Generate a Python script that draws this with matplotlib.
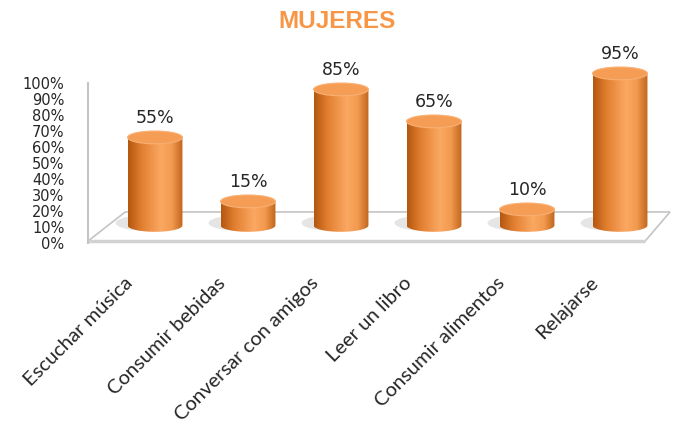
import matplotlib.pyplot as plt
import numpy as np
from matplotlib.colors import LinearSegmentedColormap
from matplotlib.patches import Ellipse, PathPatch, Polygon
from matplotlib.path import Path

# data
categories = ["Escuchar música", "Consumir bebidas", "Conversar con amigos",
              "Leer un libro", "Consumir alimentos", "Relajarse"]
values = [55, 15, 85, 65, 10, 95]
yticks = list(range(0, 101, 10))
ytick_labels = [f"{t}%" for t in yticks]
title = "MUJERES"

ORANGE = "#F79646"
TEXT = "#262626"
BASE = 11        # floor depth offset (percent units)
BAR_W = 0.59     # cylinder width (category units)
CAP_H = 8        # ellipse height (percent units)

side_cmap = LinearSegmentedColormap.from_list(
    "cyl", [(0.0, "#B4570F"), (0.25, "#E27F31"), (0.6, "#FBA862"),
            (0.8, "#F29A4F"), (1.0, "#C0651C")])

fig = plt.figure(figsize=(6.77, 4.23), dpi=100)
# 1.6 px per percent, 0% at pixel row 243; extra headroom up to 115%
ax = fig.add_axes([88 / 677, 180 / 423, 582 / 677, 184 / 423])
x_left = -(155 - 88) / 93
x_right = x_left + 582 / 93
ax.set_xlim(x_left, x_right)
ax.set_ylim(0, 115)

# floor of the 3d plot
floor = Polygon([(x_left, 1.2), (5.27, 1.2), (x_right, 19.4), (-0.32, 19.4)],
                closed=True, facecolor="white", edgecolor="#C4C4C4", lw=1.2,
                zorder=1, clip_on=False)
ax.add_patch(floor)
ax.plot([x_left, 5.27], [1.0, 1.0], color="#D2D2D2", lw=2.5, zorder=1,
        clip_on=False, solid_capstyle="butt")

grad = np.linspace(0, 1, 256).reshape(1, -1)
for i, v in enumerate(values):
    top = BASE + v
    x0, x1 = i - BAR_W / 2, i + BAR_W / 2
    t = np.linspace(np.pi, 2 * np.pi, 60)
    bottom = np.column_stack([i + BAR_W / 2 * np.cos(t),
                              BASE + CAP_H / 2 * np.sin(t)])
    verts = np.vstack([[x0, top], bottom, [x1, top], [x0, top]])
    codes = [Path.MOVETO] + [Path.LINETO] * (len(verts) - 2) + [Path.CLOSEPOLY]
    body = PathPatch(Path(verts, codes), facecolor="none", edgecolor="none",
                     transform=ax.transData)
    ax.add_patch(body)

    shadow = Ellipse((i - 0.1, BASE + 1.5), BAR_W * 1.1, CAP_H * 1.2,
                     facecolor="#8C8C8C", edgecolor="none", alpha=0.22, zorder=2)
    ax.add_patch(shadow)

    im = ax.imshow(grad, cmap=side_cmap, aspect="auto", interpolation="bicubic",
                   extent=[x0, x1, BASE - CAP_H / 2, top], zorder=3)
    im.set_clip_path(body)

    cap = Ellipse((i, top), BAR_W, CAP_H, facecolor="#F59D55",
                  edgecolor="#F9B074", lw=0.8, zorder=4, clip_on=False)
    ax.add_patch(cap)

    ax.annotate(f"{v}%", (i, top + CAP_H / 2), xytext=(0, 3),
                textcoords="offset points", ha="center", va="bottom",
                fontsize=12.5, color=TEXT, zorder=5, annotation_clip=False)

    ax.text(i - 0.27, -37 / 184, categories[i], transform=ax.get_xaxis_transform(),
            rotation=45, rotation_mode="anchor", ha="right", va="center",
            fontsize=14.5, family="Lato", color=TEXT)

ax.set_xlim(x_left, x_right)
ax.set_ylim(0, 115)

for side in ["top", "right", "bottom"]:
    ax.spines[side].set_visible(False)
ax.spines["left"].set_color("#C4C4C4")
ax.spines["left"].set_linewidth(1.5)
ax.spines["left"].set_bounds(0, 100)
ax.set_xticks([])
ax.set_yticks(yticks, ytick_labels)
ax.tick_params(axis="y", length=0, pad=17, labelsize=10.5, labelcolor=TEXT)
ax.patch.set_visible(False)

fig.text(0.498, 1 - 21 / 423, title, ha="center", va="center", fontsize=17.5,
         fontweight="bold", color=ORANGE, family="Liberation Sans")

fig.savefig("out.png", dpi=100)
